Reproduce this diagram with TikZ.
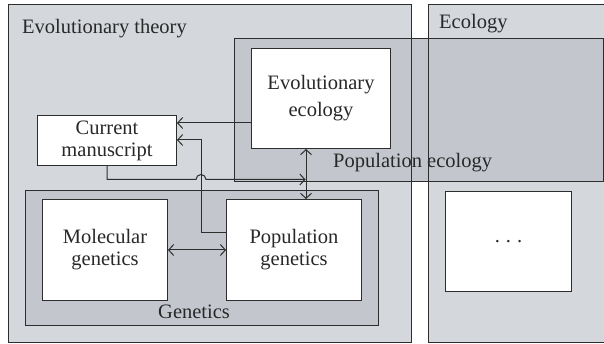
\documentclass[tikz,border=0pt]{standalone}
\usepackage{fontspec}
\setmainfont{Liberation Serif}
\usetikzlibrary{arrows.meta,calc}
\definecolor{lightbg}{RGB}{212,215,220}
\definecolor{darkbg}{RGB}{195,199,205}
\definecolor{linec}{RGB}{45,45,45}
\definecolor{textc}{RGB}{40,40,40}
\tikzset{
  border/.style={draw=linec, line width=1pt},
  whitebox/.style={border, fill=white, inner sep=0pt, anchor=north west, align=center,
     text=textc, font=\fontsize{20.5}{22}\selectfont},
  lbl/.style={anchor=base west, inner sep=0pt, text=textc, font=\fontsize{20.5}{22}\selectfont},
  conn/.style={draw=linec, line width=1pt},
  arr/.style={conn, -{Straight Barb[length=5pt,width=11pt,line width=1pt]}},
  darr/.style={conn, {Straight Barb[length=5pt,width=11pt,line width=1pt]}-{Straight Barb[length=5pt,width=11pt,line width=1pt]}}
}
\begin{document}
\begin{tikzpicture}[x=1pt,y=-1pt]
\useasboundingbox (0,0) rectangle (604,344);
\fill[white] (0,0) rectangle (604,344);
% outer areas
\path[border, fill=lightbg] (8,5) rectangle (411,342);
\path[border, fill=lightbg] (428,5) rectangle (612,342);
% population ecology
\path[border, fill=darkbg] (234,39) rectangle (603,182);
\node[lbl] (popecolbl) at (333,168) {Population ecology};
\draw[border] (411,39) -- (411,182);
\draw[border] (428,39) -- (428,182);
% genetics
\path[border, fill=darkbg] (25,191) rectangle (378,325);
% labels
\node[lbl] (evolbl) at (22,34) {Evolutionary theory};
\node[lbl] (ecolbl) at (439,29) {Ecology};
\node[lbl] (genlbl) at (158,318) {Genetics};
% white boxes
\node[whitebox, minimum width=139pt, minimum height=100pt, font=\fontsize{20.5}{27}\selectfont] (evoeco) at (251,48) {Evolutionary\\ecology};
\node[whitebox, minimum width=139pt, minimum height=50pt] (manu) at (37,115) {Current\\manuscript};
\node[whitebox, minimum width=125pt, minimum height=101pt] (molgen) at (42,199) {Molecular\\genetics};
\node[whitebox, minimum width=135pt, minimum height=101pt] (popgen) at (226,199) {Population\\genetics};
\node[whitebox, minimum width=126pt, minimum height=100pt] (dots) at (445,191) {.\hspace{6pt}.\hspace{6pt}.};
% connectors
\coordinate (yA) at (0,123);
\coordinate (yB) at (0,140);
\coordinate (yC) at (0,233);
\coordinate (yD) at (0,179.5);
\coordinate (yE) at (0,250);
\coordinate (xV) at (201,0);
\coordinate (xW) at (306,0);
\draw[arr] (evoeco.west |- yA) -- (manu.east |- yA);
\draw[arr] (popgen.west |- yC) -| (xV |- yB) -- (manu.east |- yB);
\draw[arr] (manu.south) -- (manu.south |- yD) -- ($(xV |- yD)+(-5,0)$) arc[start angle=180,end angle=0,radius=5pt] -- ($(xW |- yD)+(-0.5,0)$);
\draw[darr] (evoeco.south -| xW) -- (popgen.north -| xW);
\draw[darr] (molgen.east |- yE) -- (popgen.west |- yE);
\end{tikzpicture}
\end{document}
